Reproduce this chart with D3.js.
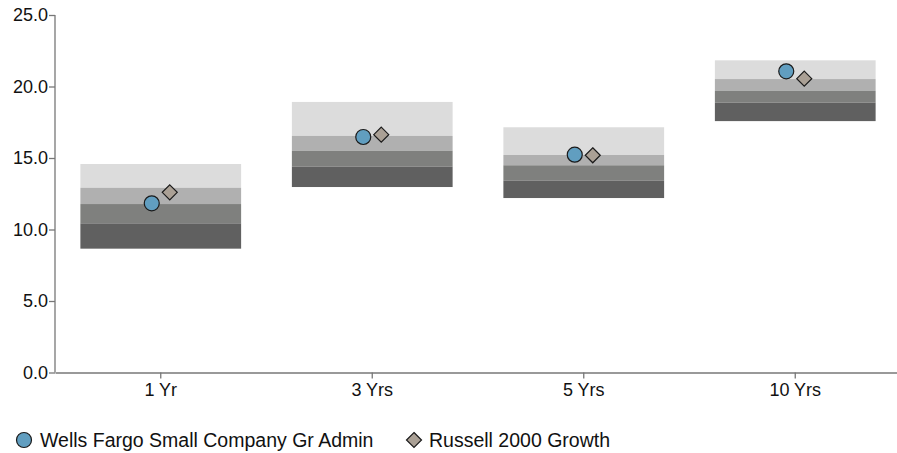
<!DOCTYPE html>
<html>
<head>
<meta charset="utf-8">
<script src="https://cdn.jsdelivr.net/npm/d3@7"></script>
<style>
  html, body { margin: 0; padding: 0; background: #fff; }
  svg { display: block; font-family: "Liberation Sans", Arial, sans-serif; }
</style>
</head>
<body>
<svg id="chart" width="897" height="453"></svg>
<script>
const categories = ["1 Yr", "3 Yrs", "5 Yrs", "10 Yrs"];
// percentile band boundaries, top (5th) to bottom (95th)
const bandTop    = [14.58, 18.92, 17.15, 21.83];
const bandQ1     = [12.92, 16.54, 15.21, 20.52];
const bandMedian = [11.78, 15.51, 14.49, 19.69];
const bandQ3     = [10.43, 14.39, 13.41, 18.87];
const bandBottom = [8.66, 12.97, 12.20, 17.58];
const fundValues  = [11.83, 16.47, 15.23, 21.06];
const indexValues = [12.60, 16.63, 15.19, 20.55];
const seriesNames = ["Wells Fargo Small Company Gr Admin", "Russell 2000 Growth"];
const yTicks = [0, 5, 10, 15, 20, 25];

const bandColors = ["#dcdcdc", "#b0b0b0", "#7f807e", "#606060"];
const fundColor = "#619ec0";
const indexColor = "#aaa095";
const axisColor = "#777";

const svg = d3.select("#chart");
const mLeft = 55, mRight = 901, mTop = 15, mBottom = 372.5;

const x = d3.scaleBand().domain(categories).range([mLeft, mRight]).paddingInner(0.24).paddingOuter(0.12);
const y = d3.scaleLinear().domain([0, 25]).range([mBottom, mTop]);

// bands
const bounds = categories.map((c, i) => [bandTop[i], bandQ1[i], bandMedian[i], bandQ3[i], bandBottom[i]]);
const gBands = svg.append("g");
categories.forEach((c, i) => {
  const b = bounds[i];
  for (let k = 0; k < 4; k++) {
    gBands.append("rect")
      .attr("x", x(c))
      .attr("width", x.bandwidth())
      .attr("y", y(b[k]))
      .attr("height", y(b[k + 1]) - y(b[k]))
      .attr("fill", bandColors[k]);
  }
});

// axes
const yAxis = d3.axisLeft(y).tickValues(yTicks).tickFormat(d3.format(".1f")).tickSize(6).tickPadding(1);
const gy = svg.append("g").attr("transform", `translate(${mLeft},0)`).call(yAxis);
const xAxis = d3.axisBottom(x).tickSize(6).tickPadding(5).tickSizeOuter(0);
const gx = svg.append("g").attr("transform", `translate(0,${mBottom})`).call(xAxis);
[gx, gy].forEach(g => {
  g.selectAll("path, line").attr("stroke", axisColor).attr("stroke-width", 1.3);
  g.selectAll("text").attr("fill", "#111").style("font-size", "18px").style("font-family", '"Liberation Sans", Arial, sans-serif');
});
gy.select(".domain").attr("d", `M0,${mBottom}V${mTop}`);
gx.selectAll(".tick text").attr("dy", "0.72em");

// points
const off = 9;
svg.append("g").selectAll("circle").data(categories).join("circle")
  .attr("cx", (d) => x(d) + x.bandwidth() / 2 - off)
  .attr("cy", (d, i) => y(fundValues[i]))
  .attr("r", 7.5)
  .attr("fill", fundColor).attr("stroke", "#1a1a1a").attr("stroke-width", 1.2);

const diamond = (s) => `M0,${-s}L${s},0L0,${s}L${-s},0Z`;
svg.append("g").selectAll("path").data(categories).join("path")
  .attr("transform", (d, i) => `translate(${x(d) + x.bandwidth() / 2 + off},${y(indexValues[i])})`)
  .attr("d", diamond(7.5))
  .attr("fill", indexColor).attr("stroke", "#1a1a1a").attr("stroke-width", 1.2);

// legend
const legY = 440;
const leg = svg.append("g").style("font-size", "19.5px").attr("fill", "#111");
leg.append("circle").attr("cx", 24).attr("cy", legY).attr("r", 7.5)
  .attr("fill", fundColor).attr("stroke", "#1a1a1a").attr("stroke-width", 1.2);
leg.append("text").attr("x", 40).attr("y", legY).attr("dy", "0.36em").text(seriesNames[0]);
leg.append("path").attr("transform", `translate(414,${legY})`).attr("d", diamond(7.5))
  .attr("fill", indexColor).attr("stroke", "#1a1a1a").attr("stroke-width", 1.2);
leg.append("text").attr("x", 429).attr("y", legY).attr("dy", "0.36em").text(seriesNames[1]);
</script>
</body>
</html>
